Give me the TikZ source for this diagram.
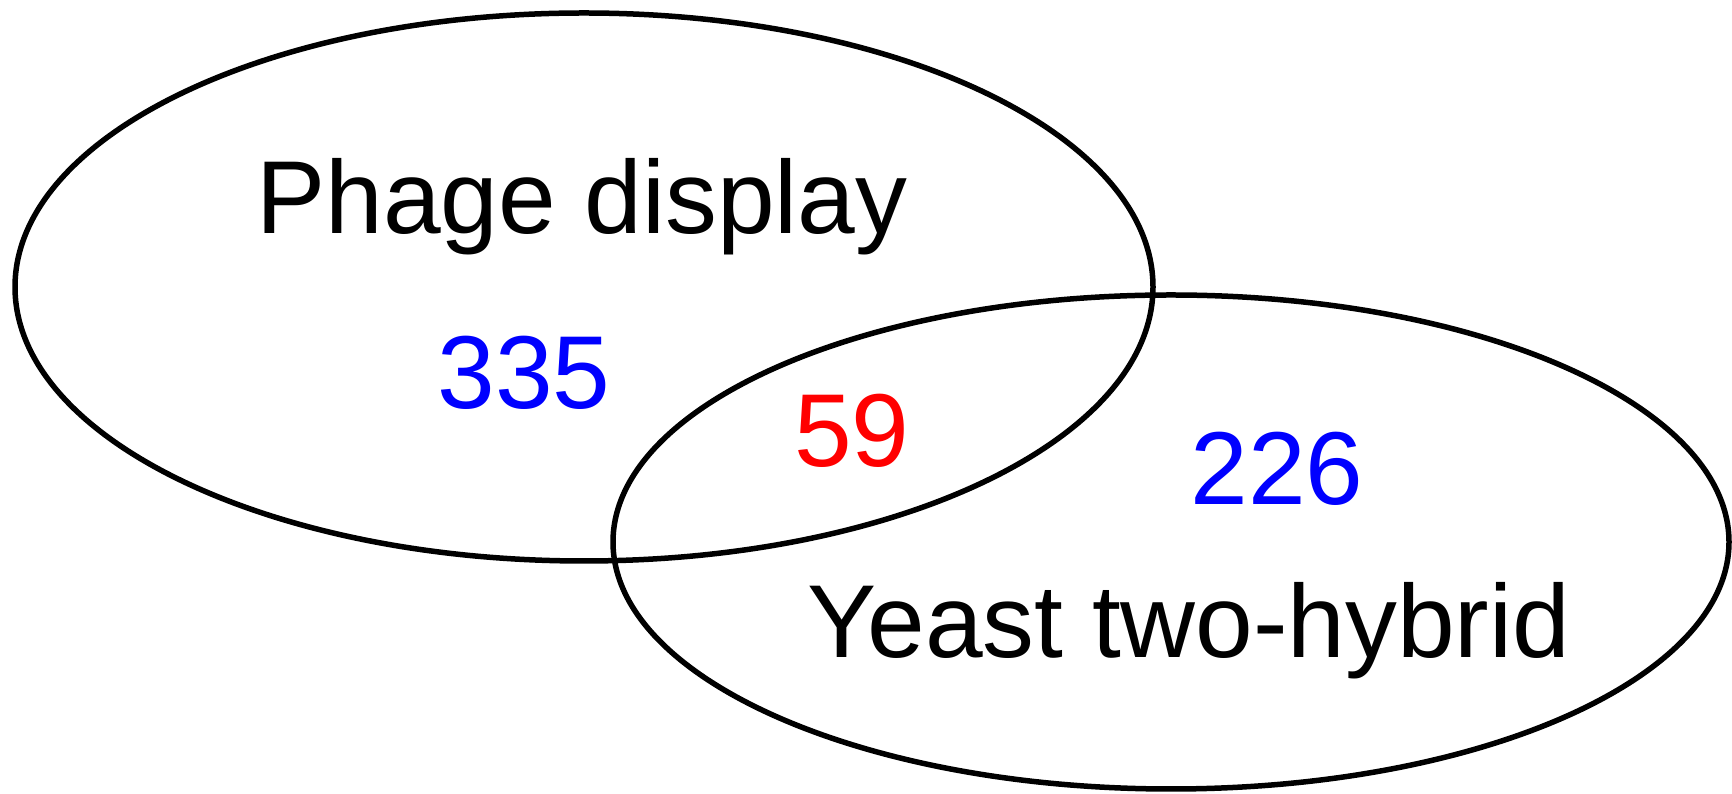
\documentclass[tikz,border=0pt]{standalone}
\usepackage{fontspec}
\setmainfont{Liberation Sans}
\begin{document}
\begin{tikzpicture}[x=0.02cm,y=0.02cm,
  setline/.style={line width=0.11cm,black},
  lbl/.style={anchor=base,inner sep=0pt,font=\fontsize{59}{70}\selectfont},
  cnt/.style={lbl,text=numblue},
  ]
\definecolor{numblue}{RGB}{0,0,255}
\definecolor{numred}{RGB}{255,0,0}
\useasboundingbox (0,0) rectangle (1732,794);
% the two sets
\draw[setline] (584,507) ellipse [x radius=569, y radius=274];
\draw[setline] (1171,252) ellipse [x radius=558, y radius=247];
% set names
\node[lbl] (phage) at (582,560) {Phage display};
\node[lbl] (yeast) at (1189,136) {Yeast two-hybrid};
% counts
\node[cnt] (onlyphage) at (524,385) {335};
\node[lbl,text=numred] (both) at (852,327) {59};
\node[cnt] (onlyyeast) at (1277,289) {226};
\end{tikzpicture}
\end{document}
